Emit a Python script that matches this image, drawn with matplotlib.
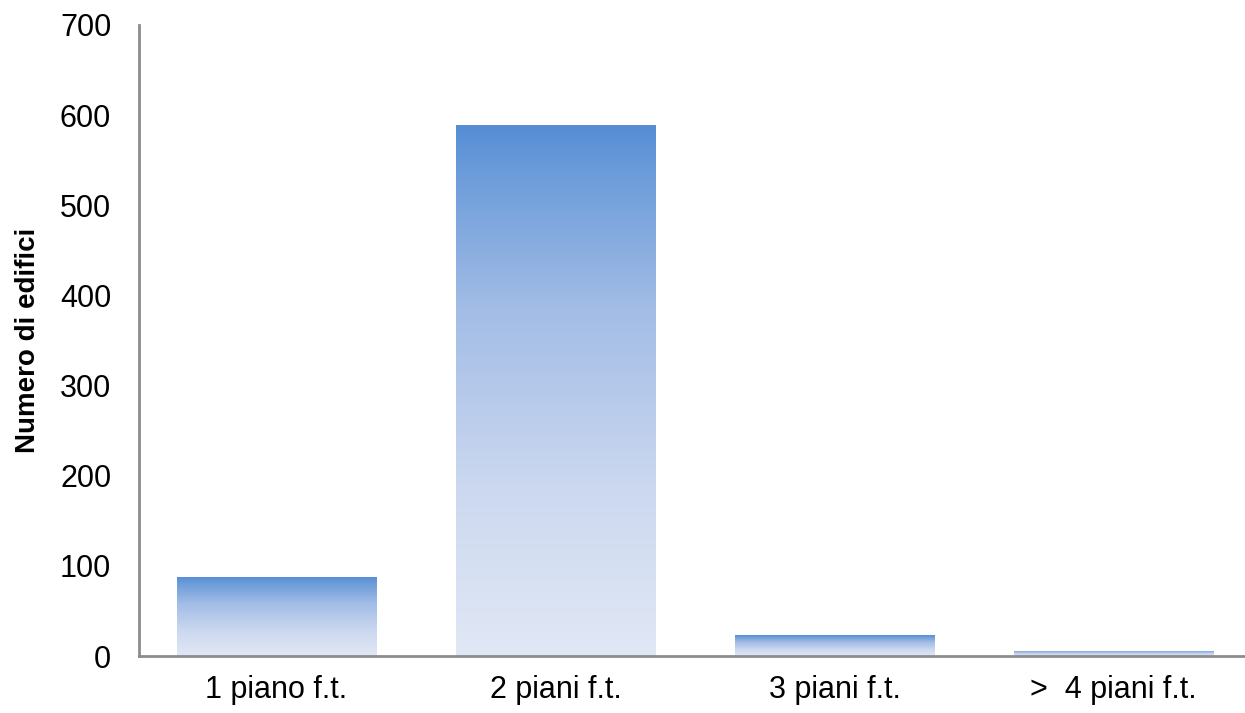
import matplotlib
matplotlib.use("Agg")
import matplotlib.pyplot as plt
import numpy as np
from matplotlib.colors import LinearSegmentedColormap
from matplotlib import font_manager

categories = ["1 piano f.t.", "2 piani f.t.", "3 piani f.t.", ">  4 piani f.t."]
values = [88, 589, 23, 6]
yticks = [0, 100, 200, 300, 400, 500, 600, 700]
ylabel = "Numero di edifici"

names = {f.name for f in font_manager.fontManager.ttflist}
fam = ["Liberation Sans Narrow", "Liberation Sans", "DejaVu Sans"]
fam = [f for f in fam if f in names] + ["DejaVu Sans"]
plt.rcParams['font.family'] = fam

fig = plt.figure(figsize=(12.45, 7.13), dpi=100)
ax = fig.add_axes([139/1245, 1-656/713, 1-139/1245, (656-25)/713])

cmap = LinearSegmentedColormap.from_list("g", [(0.0, "#E1E8F5"), (0.3, "#CDD9F0"), (0.65, "#A3BDE6"), (0.9, "#6E9DDA"), (1.0, "#558ED5")])

bars = ax.bar(range(len(categories)), values, width=0.714, color="none", edgecolor="none", zorder=2)
grad = np.linspace(0, 1, 256).reshape(-1, 1)
for b in bars:
    x0, w, h = b.get_x(), b.get_width(), b.get_height()
    im = ax.imshow(grad, cmap=cmap, origin="lower", aspect="auto",
                   extent=[x0, x0 + w, 0, h], zorder=2, interpolation="bicubic")
    im.set_clip_path(b)

ax.set_xlim(-0.493, 3.471)
ax.set_ylim(0, 700)
ax.set_yticks(yticks)
ax.set_yticklabels([str(t) for t in yticks], fontsize=22)
ax.set_xticks(range(len(categories)))
ax.set_xticklabels(categories, fontsize=22)
ax.tick_params(axis='x', length=0, pad=14)
ax.tick_params(axis='y', length=0, pad=20)
for s in ["top", "right"]:
    ax.spines[s].set_visible(False)
for s in ["left", "bottom"]:
    ax.spines[s].set_color("#8c8c8c")
    ax.spines[s].set_linewidth(2)
ax.set_ylabel(ylabel, fontsize=20, fontweight="bold")
ax.yaxis.set_label_coords(-0.0886, 0.5)

fig.savefig("out.png", dpi=100)
